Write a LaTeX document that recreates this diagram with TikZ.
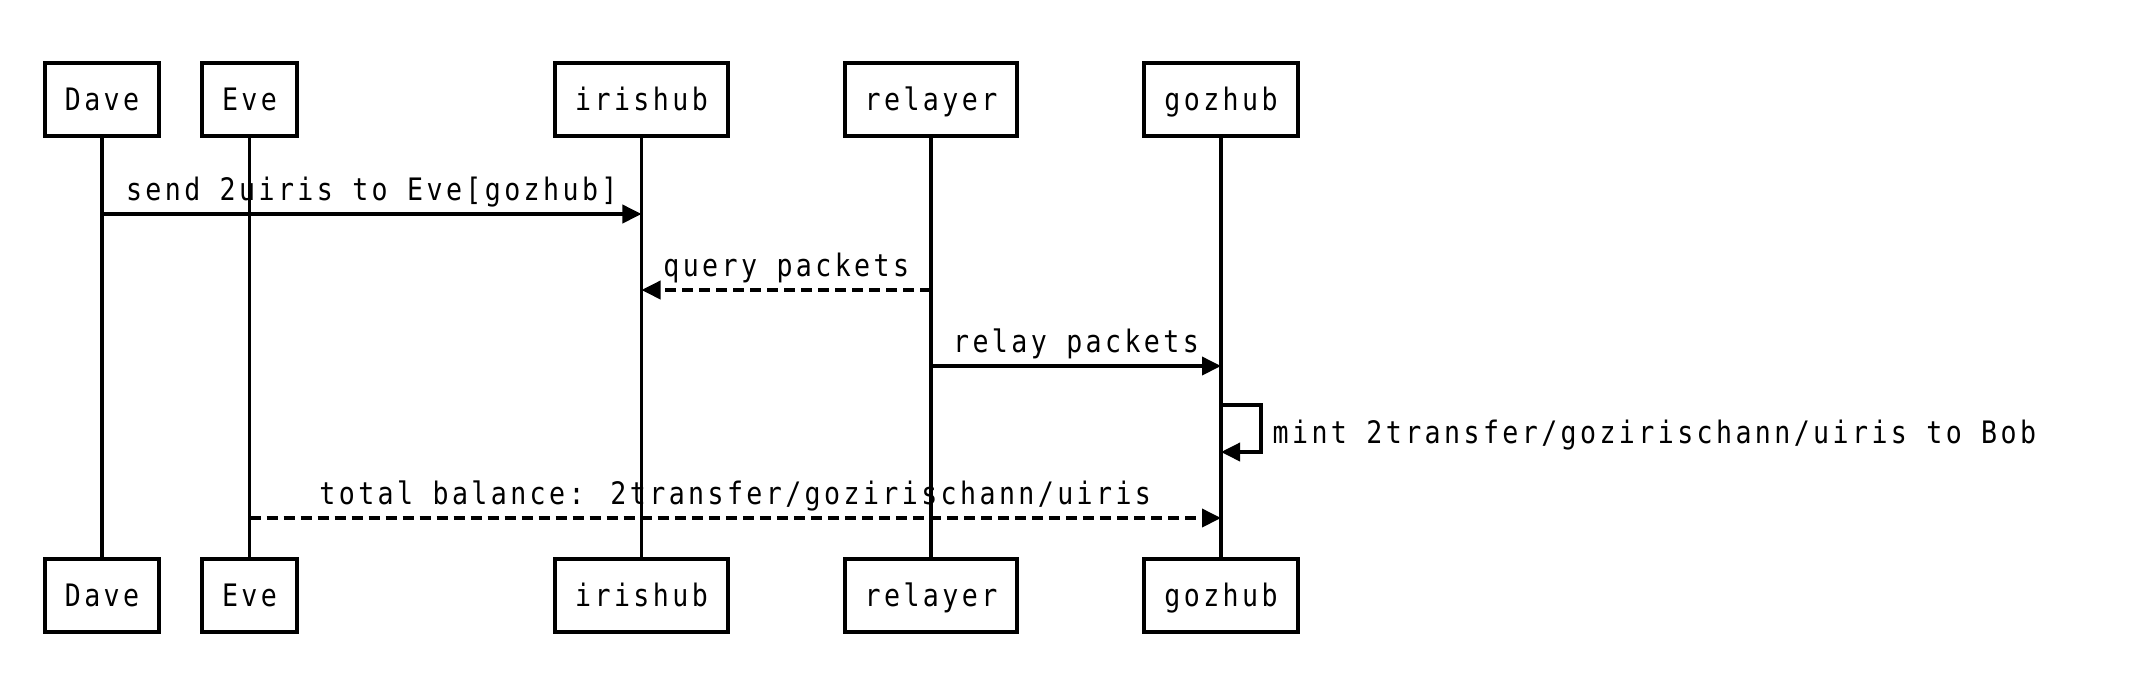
\documentclass[tikz,border=0pt]{standalone}
\usepackage{fontspec}
\newfontfamily\seqfont[FakeStretch=0.86,LetterSpace=11]{DejaVu Sans Mono}
\usetikzlibrary{arrows.meta}
\usetikzlibrary{positioning}

\tikzset{
  actor/.style={draw=black,line width=1.1pt,minimum height=0.73cm,inner xsep=0.2cm,
    text height=0.26cm,text depth=0.04cm,font=\seqfont\fontsize{8.8}{11}\selectfont},
  lifeline/.style={line width=0.95pt},
  msg/.style={line width=1.05pt,-{Triangle[length=0.19cm,width=0.18cm]}},
  reply/.style={msg,dash pattern=on 0.11cm off 0.06cm},
  msglabel/.style={font=\seqfont\fontsize{8.8}{11}\selectfont,anchor=base,inner sep=0pt}
}

\begin{document}
\begin{tikzpicture}[x=0.01cm,y=-0.01cm]
\useasboundingbox (0,0) rectangle (2152,690);

\node[actor] (daveT) at (102,99.5) {Dave};
\node[actor] (eveT) at (249.5,99.5) {Eve};
\node[actor] (irisT) at (641.5,99.5) {irishub};
\node[actor] (relT) at (931,99.5) {relayer};
\node[actor] (gozT) at (1221,99.5) {gozhub};

\node[actor] (daveB) at (102,595.5) {Dave};
\node[actor] (eveB) at (249.5,595.5) {Eve};
\node[actor] (irisB) at (641.5,595.5) {irishub};
\node[actor] (relB) at (931,595.5) {relayer};
\node[actor] (gozB) at (1221,595.5) {gozhub};

\draw[lifeline] (daveT) -- (daveB);
\draw[lifeline] (eveT) -- (eveB);
\draw[lifeline] (irisT) -- (irisB);
\draw[lifeline] (relT) -- (relB);
\draw[lifeline] (gozT) -- (gozB);

\coordinate (m1) at (0,214);
\coordinate (m2) at (0,290);
\coordinate (m3) at (0,366);
\coordinate (s1) at (0,405);
\coordinate (s2) at (0,452);
\coordinate (m5) at (0,518);

\draw[msg] (daveT |- m1) -- node[msglabel,yshift=0.14cm] (l1) {send 2uiris to Eve[gozhub]} (irisT |- m1);
\draw[reply] (relT |- m2) -- node[msglabel,yshift=0.14cm] (l2) {query packets} (irisT |- m2);
\draw[msg] (relT |- m3) -- node[msglabel,yshift=0.14cm] (l3) {relay packets} (gozT |- m3);
\draw[msg] (gozT |- s1) -- ++(40,0) |- (gozT |- s2);
\node[msglabel,anchor=base west] (l4) at (1272,443) {mint 2transfer/gozirischann/uiris to Bob};
\draw[reply] (eveT |- m5) -- node[msglabel,yshift=0.14cm] (l5) {total balance: 2transfer/gozirischann/uiris} (gozT |- m5);

\end{tikzpicture}
\end{document}
